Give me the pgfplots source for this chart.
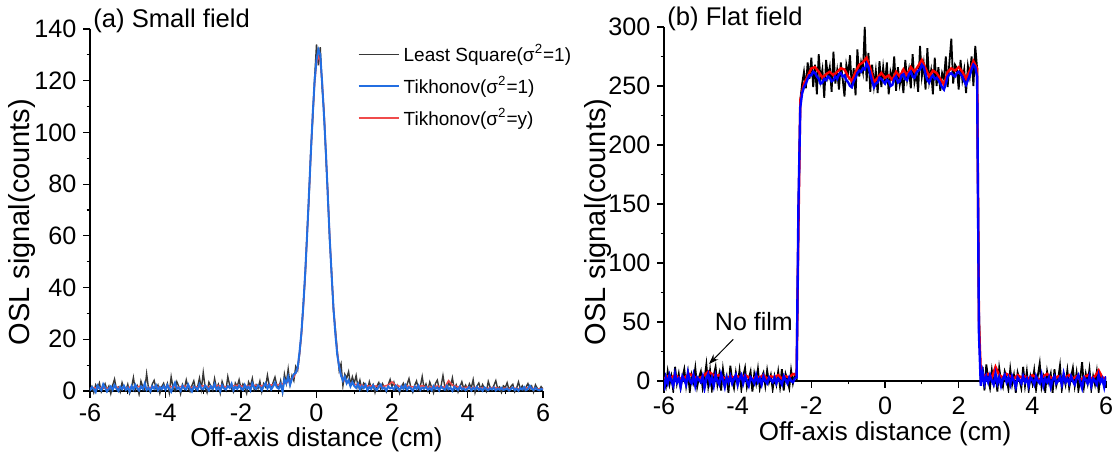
\documentclass[border=0pt]{standalone}
\usepackage{fontspec}
\setmainfont{Liberation Sans}
\usepackage{pgfplots}
\pgfplotsset{compat=1.18}
\usetikzlibrary{arrows.meta}
\definecolor{lsgray}{RGB}{55,55,55}
\definecolor{tkblue}{RGB}{35,110,225}
\definecolor{tkred}{RGB}{240,75,75}
\pgfplotsset{
  myaxis/.style={
    scale only axis,
    axis x line=middle, axis y line=left,
    every inner x axis line/.append style={-},
    every outer y axis line/.append style={-},
    x axis line style={-}, y axis line style={-},
    axis line style={line width=0.6pt, black, -},
    hide obscured x ticks=false, hide obscured y ticks=false,
    xtick align=outside, ytick align=outside,
    xmin=-6, xmax=6, xtick={-6,-4,...,6},
    minor x tick num=1, minor y tick num=1,
    major tick length=3.3pt, minor tick length=1.7pt,
    every tick/.style={black, line width=0.6pt},
    tick label style={font=\fontsize{12.6}{15}\selectfont},
    xlabel style={font=\fontsize{13}{15}\selectfont, inner sep=0.5pt},
    ylabel style={font=\fontsize{14.5}{17}\selectfont},
    /pgf/number format/assume math mode=true,
  }
}
\begin{document}
\begin{tikzpicture}
\useasboundingbox (-45pt,-28.4pt) rectangle (513.5pt,198.1pt);
% ---------------- (a) Small field ----------------
\begin{axis}[myaxis, name=L, at={(0pt,0pt)}, anchor=south west,
  width=226.5pt, height=183.6pt,
  ymin=-2, ymax=140, ytick={0,20,...,140},
  xticklabel style={inner sep=0.5pt, yshift=-2.6pt},
  xlabel={Off-axis distance (cm)}, ylabel={OSL signal(counts)},
  xlabel style={at={(axis description cs:0.5,0)}, anchor=center, yshift=-21.8pt},
  ylabel style={at={(axis description cs:-0.150,0.474)}, anchor=center, rotate=0},
  legend style={at={(axis description cs:0.59,0.97)}, anchor=north west, draw=none, fill=none,
    font=\fontsize{9.5}{11}\selectfont, row sep=2pt, inner sep=0pt},
  legend cell align=left,
  legend image code/.code={\draw[#1] (0pt,0pt) -- (20pt,0pt);},
]
\addplot[lsgray, line width=0.7pt] coordinates {
(-6,0.5)(-5.95,1.8)(-5.9,-0.6)(-5.85,2.4)(-5.8,0.9)(-5.75,3.1)(-5.7,-0.3)(-5.65,1.2)(-5.6,2.8)(-5.55,0.4)(-5.5,1.9)(-5.45,-1.0)(-5.4,2.2)(-5.35,4.6)(-5.3,0.7)(-5.25,1.5)(-5.2,-0.4)(-5.15,3.3)(-5.1,1.1)(-5.05,0.2)
(-5,2.6)(-4.95,-0.8)(-4.9,1.4)(-4.85,5.2)(-4.8,0.3)(-4.75,2.0)(-4.7,-1.2)(-4.65,3.8)(-4.6,1.6)(-4.55,0.5)(-4.5,6.7)(-4.45,1.0)(-4.4,-0.5)(-4.35,2.7)(-4.3,4.1)(-4.25,0.8)(-4.2,2.3)(-4.15,-0.9)(-4.1,1.7)(-4.05,3.0)
(-4,0.6)(-3.95,2.9)(-3.9,-0.7)(-3.85,5.5)(-3.8,1.3)(-3.75,0.1)(-3.7,3.6)(-3.65,1.8)(-3.6,-1.1)(-3.55,2.5)(-3.5,0.9)(-3.45,4.3)(-3.4,1.2)(-3.35,-0.2)(-3.3,2.1)(-3.25,3.9)(-3.2,0.4)(-3.15,1.6)(-3.1,5.0)(-3.05,0.7)
(-3,7.2)(-2.95,1.5)(-2.9,-0.6)(-2.85,3.4)(-2.8,2.0)(-2.75,0.3)(-2.7,4.8)(-2.65,1.1)(-2.6,2.6)(-2.55,-0.8)(-2.5,3.7)(-2.45,1.4)(-2.4,0.2)(-2.35,5.6)(-2.3,2.2)(-2.25,0.9)(-2.2,-0.4)(-2.15,3.1)(-2.1,1.8)(-2.05,4.4)
(-2,0.8)(-1.95,2.7)(-1.9,1.3)(-1.85,-0.9)(-1.8,3.5)(-1.75,1.9)(-1.7,4.9)(-1.65,0.5)(-1.6,2.4)(-1.55,1.0)(-1.5,3.8)(-1.45,-0.3)(-1.4,2.9)(-1.35,1.6)(-1.3,6.1)(-1.25,2.0)(-1.2,0.7)(-1.15,3.3)(-1.1,5.4)(-1.05,2.1)
(-1,1.2)(-0.95,4.0)(-0.9,-0.5)(-0.85,6.5)(-0.8,3.0)(-0.75,8.5)(-0.7,2.5)(-0.65,6.0)(-0.6,4.0)(-0.55,9.5)(-0.5,8.0)(-0.45,14.0)(-0.4,22.0)(-0.35,33.5)(-0.3,44.0)(-0.25,61.0)(-0.2,74.0)(-0.15,93.0)(-0.1,105.0)(-0.05,121.0)
(0,134)(0.05,126)(0.1,133)(0.15,117)(0.2,108)(0.25,90)(0.3,77)(0.35,58)(0.4,46)(0.45,31)(0.5,24)(0.55,15.5)(0.6,8)(0.65,10.5)(0.7,2)(0.75,6.5)(0.8,5)(0.85,7.5)(0.9,2.5)(0.95,5.5)
(1,3.0)(1.05,6.0)(1.1,1.5)(1.15,4.2)(1.2,0.8)(1.25,3.1)(1.3,2.2)(1.35,0.4)(1.4,3.6)(1.45,1.1)(1.5,2.5)(1.55,-0.6)(1.6,1.9)(1.65,3.3)(1.7,0.7)(1.75,2.8)(1.8,1.2)(1.85,-0.3)(1.9,2.4)(1.95,4.5)
(2,1.6)(2.05,3.4)(2.1,0.5)(2.15,2.1)(2.2,-0.8)(2.25,1.7)(2.3,3.0)(2.35,0.9)(2.4,2.6)(2.45,4.8)(2.5,1.3)(2.55,-0.5)(2.6,2.2)(2.65,3.9)(2.7,0.6)(2.75,1.8)(2.8,5.6)(2.85,1.0)(2.9,2.7)(2.95,0.2)
(3,3.5)(3.05,1.4)(3.1,-0.7)(3.15,2.9)(3.2,4.2)(3.25,0.8)(3.3,2.0)(3.35,6.0)(3.4,1.5)(3.45,0.3)(3.5,3.2)(3.55,1.9)(3.6,5.1)(3.65,0.6)(3.7,2.4)(3.75,-0.4)(3.8,1.7)(3.85,3.6)(3.9,0.9)(3.95,2.3)
(4,0.5)(4.05,2.8)(4.1,1.2)(4.15,4.4)(4.2,-0.6)(4.25,1.9)(4.3,3.1)(4.35,0.7)(4.4,2.5)(4.45,1.0)(4.5,-0.2)(4.55,3.7)(4.6,1.4)(4.65,0.6)(4.7,2.2)(4.75,4.0)(4.8,0.9)(4.85,1.6)(4.9,-0.5)(4.95,2.0)
(5,1.3)(5.05,3.2)(5.1,0.4)(5.15,1.8)(5.2,2.6)(5.25,-0.3)(5.3,1.1)(5.35,3.5)(5.4,0.8)(5.45,2.0)(5.5,0.2)(5.55,1.5)(5.6,2.9)(5.65,0.6)(5.7,1.9)(5.75,-0.4)(5.8,2.4)(5.85,1.0)(5.9,0.5)(5.95,1.7)(6,0.8)
};
\addlegendentry{Least Square(σ\textsuperscript{2}=1)}
\addplot[tkred, line width=0.8pt, forget plot] coordinates {
(-6,1.0)(-5.9,1.3)(-5.8,1.1)(-5.7,1.4)(-5.6,1.2)(-5.5,1.0)(-5.4,1.3)(-5.3,1.5)(-5.2,1.2)(-5.1,1.1)
(-5,1.3)(-4.9,1.6)(-4.8,1.4)(-4.7,1.8)(-4.6,1.5)(-4.5,1.2)(-4.4,1.4)(-4.3,1.7)(-4.2,1.5)(-4.1,1.3)
(-4,1.5)(-3.9,1.8)(-3.8,1.6)(-3.7,1.4)(-3.6,1.7)(-3.5,1.9)(-3.4,1.6)(-3.3,1.4)(-3.2,1.5)(-3.1,1.8)
(-3,2.0)(-2.9,1.7)(-2.8,1.5)(-2.7,1.8)(-2.6,2.1)(-2.5,1.9)(-2.4,1.6)(-2.3,1.8)(-2.2,2.0)(-2.1,2.2)
(-2,1.9)(-1.9,1.7)(-1.8,2.0)(-1.7,2.3)(-1.6,2.1)(-1.5,1.9)(-1.4,2.2)(-1.3,2.5)(-1.2,2.3)(-1.1,2.6)
(-1,2.4)(-0.9,2.8)(-0.8,3.2)(-0.7,4.0)(-0.6,5.5)
(-0.5,8.5)(-0.45,14.5)(-0.4,22.0)(-0.35,32.5)(-0.3,45.0)(-0.25,60.0)(-0.2,75.5)(-0.15,92.0)(-0.1,107.0)(-0.05,119.0)(0,127.0)(0.05,129.5)(0.1,127.5)(0.15,119.5)(0.2,107.0)(0.25,92.0)(0.3,75.5)(0.35,59.5)(0.4,45.0)(0.45,32.0)(0.5,22.5)(0.55,15.0)(0.6,9.5)(0.65,6.0)(0.7,4.5)(0.8,3.5)(0.9,3.0)
(1,2.6)(1.1,2.4)(1.2,2.2)(1.3,2.0)(1.4,1.9)(1.5,2.1)(1.6,1.8)(1.7,1.6)(1.8,1.9)(1.9,2.3)
(2,3.5)(2.1,2.2)(2.2,1.8)(2.3,1.6)(2.4,1.9)(2.5,1.7)(2.6,1.5)(2.7,1.8)(2.8,2.0)(2.9,1.6)
(3,1.4)(3.1,1.7)(3.2,1.9)(3.3,1.6)(3.4,1.5)(3.5,4.0)(3.6,2.2)(3.7,1.8)(3.8,1.5)(3.9,1.3)
(4,1.5)(4.1,1.2)(4.2,1.4)(4.3,1.1)(4.4,1.3)(4.5,1.0)(4.6,1.2)(4.7,1.4)(4.8,1.1)(4.9,0.9)
(5,1.1)(5.1,0.9)(5.2,1.2)(5.3,1.0)(5.4,0.8)(5.5,1.0)(5.6,1.3)(5.7,1.1)(5.8,0.9)(5.9,0.8)(6,0.9)
};
\addplot[tkblue, line width=1.0pt] coordinates {
(-6,0.2)(-5.95,1.5)(-5.9,0.8)(-5.85,-0.4)(-5.8,2.1)(-5.75,1.0)(-5.7,0.3)(-5.65,2.6)(-5.6,1.2)(-5.55,-0.2)(-5.5,0.9)(-5.45,1.8)(-5.4,0.4)(-5.35,2.3)(-5.3,1.1)(-5.25,0.0)(-5.2,1.6)(-5.15,0.7)(-5.1,2.0)(-5.05,0.5)
(-5,1.3)(-4.95,-0.3)(-4.9,1.9)(-4.85,0.6)(-4.8,2.4)(-4.75,1.0)(-4.7,0.2)(-4.65,1.7)(-4.6,0.8)(-4.55,2.9)(-4.5,0.4)(-4.45,1.2)(-4.4,-0.1)(-4.35,1.8)(-4.3,0.9)(-4.25,2.2)(-4.2,0.3)(-4.15,1.5)(-4.1,0.7)(-4.05,1.9)
(-4,0.5)(-3.95,2.3)(-3.9,1.0)(-3.85,-0.3)(-3.8,1.6)(-3.75,3.2)(-3.7,0.8)(-3.65,1.4)(-3.6,0.1)(-3.55,2.0)(-3.5,1.1)(-3.45,0.6)(-3.4,2.5)(-3.35,0.9)(-3.3,-0.2)(-3.25,1.7)(-3.2,1.2)(-3.15,0.4)(-3.1,2.6)(-3.05,1.0)
(-3,0.7)(-2.95,2.1)(-2.9,1.3)(-2.85,0.2)(-2.8,1.8)(-2.75,0.9)(-2.7,2.7)(-2.65,0.5)(-2.6,1.5)(-2.55,-0.1)(-2.5,2.2)(-2.45,1.0)(-2.4,0.6)(-2.35,1.9)(-2.3,1.2)(-2.25,2.8)(-2.2,0.3)(-2.15,1.6)(-2.1,0.8)(-2.05,2.0)
(-2,1.1)(-1.95,0.4)(-1.9,2.4)(-1.85,1.0)(-1.8,1.7)(-1.75,0.2)(-1.7,2.9)(-1.65,1.3)(-1.6,0.8)(-1.55,2.2)(-1.5,1.5)(-1.45,0.3)(-1.4,1.9)(-1.35,3.0)(-1.3,1.0)(-1.25,2.4)(-1.2,0.6)(-1.15,1.8)(-1.1,3.2)(-1.05,1.4)
(-1,0.9)(-0.95,2.6)(-0.9,-0.2)(-0.85,4.5)(-0.8,3.0)(-0.75,5.5)(-0.7,2.4)(-0.65,4.8)(-0.6,6.5)(-0.55,7.0)(-0.5,9.0)(-0.45,15.0)(-0.4,22.5)(-0.35,33.0)(-0.3,45.5)(-0.25,60.0)(-0.2,76.0)(-0.15,92.0)(-0.1,107.0)(-0.05,120.0)
(0,128)(0.05,132)(0.1,130)(0.15,119)(0.2,106)(0.25,92)(0.3,75)(0.35,59)(0.4,45)(0.45,32)(0.5,22)(0.55,14)(0.6,9.5)(0.65,6)(0.7,4)(0.75,5.5)(0.8,3)(0.85,4.2)(0.9,1.8)(0.95,3.4)
(1,2.0)(1.05,1.2)(1.1,2.8)(1.15,0.6)(1.2,1.9)(1.25,1.1)(1.3,2.4)(1.35,0.3)(1.4,1.5)(1.45,0.8)(1.5,2.2)(1.55,1.0)(1.6,0.4)(1.65,1.7)(1.7,2.5)(1.75,0.9)(1.8,1.3)(1.85,0.2)(1.9,1.8)(1.95,1.0)
(2,1.4)(2.05,0.6)(2.1,2.0)(2.15,1.1)(2.2,0.3)(2.25,1.8)(2.3,0.9)(2.35,2.3)(2.4,0.5)(2.45,1.5)(2.5,1.0)(2.55,0.1)(2.6,1.7)(2.65,0.8)(2.7,2.1)(2.75,0.4)(2.8,1.3)(2.85,0.9)(2.9,1.6)(2.95,0.5)
(3,1.2)(3.05,0.3)(3.1,1.9)(3.15,0.8)(3.2,1.4)(3.25,0.2)(3.3,1.7)(3.35,1.0)(3.4,0.5)(3.45,2.0)(3.5,0.7)(3.55,1.3)(3.6,0.1)(3.65,1.6)(3.7,0.9)(3.75,0.4)(3.8,1.8)(3.85,0.6)(3.9,1.1)(3.95,0.3)
(4,0.9)(4.05,1.5)(4.1,0.2)(4.15,1.2)(4.2,0.7)(4.25,1.6)(4.3,0.4)(4.35,1.0)(4.4,0.1)(4.45,1.4)(4.5,0.8)(4.55,0.3)(4.6,1.1)(4.65,0.6)(4.7,1.3)(4.75,0.2)(4.8,0.9)(4.85,0.5)(4.9,1.2)(4.95,0.4)
(5,0.7)(5.05,1.0)(5.1,0.2)(5.15,0.8)(5.2,1.3)(5.25,0.4)(5.3,0.9)(5.35,0.1)(5.4,1.1)(5.45,0.6)(5.5,1.5)(5.55,0.3)(5.6,0.8)(5.65,2.0)(5.7,0.9)(5.75,0.4)(5.8,1.2)(5.85,0.6)(5.9,0.3)(5.95,0.8)(6,0.5)
};
\addlegendentry{Tikhonov(σ\textsuperscript{2}=1)}
\addlegendimage{tkred, line width=0.8pt}
\addlegendentry{Tikhonov(σ\textsuperscript{2}=y)}
\end{axis}
\node[anchor=base west, inner sep=0pt, font=\fontsize{12.8}{15}\selectfont] at ([xshift=1.5pt,yshift=0.5pt]L.north west) {(a) Small field};
% ---------------- (b) Flat field ----------------
\begin{axis}[myaxis, name=R, at={(287pt,1.7pt)}, anchor=south west,
  width=221pt, height=182.9pt,
  ymin=-10, ymax=300, ytick={0,50,...,300},
  xticklabel style={inner sep=0.5pt, yshift=-4.2pt},
  xlabel={Off-axis distance (cm)}, ylabel={OSL signal(counts)},
  xlabel style={at={(axis description cs:0.5,0)}, anchor=center, yshift=-20.5pt},
  ylabel style={at={(axis description cs:-0.149,0.467)}, anchor=center},
]
\addplot[black, line width=0.9pt] coordinates {
(-6,0)(-5.95,-5)(-5.9,8)(-5.85,-3)(-5.8,4)(-5.75,-8)(-5.7,12)(-5.65,-2)(-5.6,6)(-5.55,-6)(-5.5,3)(-5.45,10)(-5.4,-4)(-5.35,7)(-5.3,-9)(-5.25,5)(-5.2,-1)(-5.15,11)(-5.1,-5)(-5.05,3)
(-5,8)(-4.95,-6)(-4.9,2)(-4.85,14)(-4.8,-4)(-4.75,9)(-4.7,-7)(-4.65,5)(-4.6,12)(-4.55,-3)(-4.5,6)(-4.45,-8)(-4.4,10)(-4.35,-2)(-4.3,4)(-4.25,-10)(-4.2,13)(-4.15,1)(-4.1,-6)(-4.05,7)
(-4,-3)(-3.95,9)(-3.9,-7)(-3.85,4)(-3.8,11)(-3.75,-5)(-3.7,2)(-3.65,8)(-3.6,-9)(-3.55,6)(-3.5,-2)(-3.45,10)(-3.4,-6)(-3.35,3)(-3.3,7)(-3.25,-4)(-3.2,9)(-3.15,-1)(-3.1,5)(-3.05,-7)
(-3,4)(-2.95,-3)(-2.9,8)(-2.85,-5)(-2.8,10)(-2.75,-8)(-2.7,6)(-2.65,1)(-2.6,-6)(-2.55,9)(-2.5,-2)(-2.45,5)(-2.4,2)(-2.35,140)(-2.3,238)(-2.25,252)(-2.2,262)(-2.15,248)(-2.1,270)(-2.05,256)
(-2,274)(-1.95,249)(-1.9,268)(-1.85,243)(-1.8,277)(-1.75,255)(-1.7,264)(-1.65,240)(-1.6,272)(-1.55,258)(-1.5,266)(-1.45,245)(-1.4,279)(-1.35,252)(-1.3,263)(-1.25,247)(-1.2,270)(-1.15,256)(-1.1,241)(-1.05,268)
(-1,260)(-0.95,276)(-0.9,248)(-0.85,265)(-0.8,242)(-0.75,281)(-0.7,258)(-0.65,270)(-0.6,262)(-0.55,300)(-0.5,254)(-0.45,278)(-0.4,245)(-0.35,268)(-0.3,250)(-0.25,263)(-0.2,244)(-0.15,271)(-0.1,249)(-0.05,266)
(0,252)(0.05,270)(0.1,243)(0.15,262)(0.2,256)(0.25,275)(0.3,246)(0.35,266)(0.4,251)(0.45,259)(0.5,244)(0.55,272)(0.6,255)(0.65,264)(0.7,248)(0.75,277)(0.8,253)(0.85,261)(0.9,245)(0.95,284)
(1,258)(1.05,269)(1.1,247)(1.15,282)(1.2,254)(1.25,263)(1.3,243)(1.35,274)(1.4,250)(1.45,266)(1.5,246)(1.55,261)(1.6,256)(1.65,275)(1.7,249)(1.75,271)(1.8,290)(1.85,252)(1.9,268)(1.95,265)
(2,247)(2.05,272)(2.1,255)(2.15,264)(2.2,244)(2.25,267)(2.3,258)(2.35,275)(2.4,250)(2.45,284)(2.5,265)(2.55,60)(2.6,-3)(2.65,12)(2.7,-8)(2.75,14)(2.8,2)(2.85,-6)(2.9,9)(2.95,-2)
(3,6)(3.05,-9)(3.1,11)(3.15,0)(3.2,-5)(3.25,8)(3.3,3)(3.35,-7)(3.4,10)(3.45,-3)(3.5,5)(3.55,-10)(3.6,7)(3.65,1)(3.7,-6)(3.75,12)(3.8,-4)(3.85,8)(3.9,-8)(3.95,4)
(4,-2)(4.05,9)(4.1,-7)(4.15,5)(4.2,15)(4.25,-5)(4.3,3)(4.35,-9)(4.4,8)(4.45,-1)(4.5,6)(4.55,-10)(4.6,10)(4.65,-4)(4.7,2)(4.75,13)(4.8,-7)(4.85,4)(4.9,-3)(4.95,9)
(5,-6)(5.05,3)(5.1,11)(5.15,-4)(5.2,7)(5.25,-8)(5.3,2)(5.35,16)(5.4,-5)(5.45,6)(5.5,-2)(5.55,10)(5.6,-7)(5.65,4)(5.7,-3)(5.75,8)(5.8,-9)(5.85,5)(5.9,1)(5.95,-4)(6,3)
};
\addplot[red, line width=1.2pt] coordinates {
(-6,2)(-5.9,4)(-5.8,3)(-5.7,5)(-5.6,3)(-5.5,1)(-5.4,4)(-5.3,6)(-5.2,4)(-5.1,2)
(-5,3)(-4.9,5)(-4.8,8)(-4.7,6)(-4.6,4)(-4.5,5)(-4.4,3)(-4.3,2)(-4.2,4)(-4.1,3)
(-4,4)(-3.9,2)(-3.8,5)(-3.7,3)(-3.6,1)(-3.5,4)(-3.4,3)(-3.3,5)(-3.2,2)(-3.1,4)
(-3,3)(-2.9,5)(-2.8,2)(-2.7,4)(-2.6,3)(-2.5,6)(-2.4,5)(-2.35,130)(-2.3,238)(-2.2,252)(-2.1,258)
(-2,265)(-1.9,266)(-1.8,262)(-1.7,257)(-1.6,260)(-1.5,262)(-1.4,259)(-1.3,262)(-1.2,265)(-1.1,264)
(-1,258)(-0.9,254)(-0.8,262)(-0.7,268)(-0.6,270)(-0.5,274)(-0.4,265)(-0.3,253)(-0.2,257)(-0.1,261)
(0,257)(0.1,259)(0.2,255)(0.3,262)(0.4,258)(0.5,264)(0.6,259)(0.7,266)(0.8,262)(0.9,267)
(1,272)(1.1,265)(1.2,258)(1.3,263)(1.4,261)(1.5,256)(1.6,251)(1.7,262)(1.8,265)(1.9,263)
(2,266)(2.1,262)(2.2,256)(2.3,263)(2.4,271)(2.5,265)(2.55,50)(2.6,8)(2.7,4)(2.8,6)(2.9,3)
(3,12)(3.1,5)(3.2,3)(3.3,6)(3.4,4)(3.5,2)(3.6,5)(3.7,3)(3.8,4)(3.9,2)
(4,5)(4.1,3)(4.2,1)(4.3,4)(4.4,6)(4.5,3)(4.6,2)(4.7,4)(4.8,1)(4.9,3)
(5,5)(5.1,2)(5.2,4)(5.3,1)(5.4,3)(5.5,5)(5.6,2)(5.7,4)(5.8,9)(5.9,3)(6,2)
};
\addplot[blue, line width=1.2pt] coordinates {
(-6,-8)(-5.95,3)(-5.9,-2)(-5.85,5)(-5.8,0)(-5.75,-4)(-5.7,6)(-5.65,-1)(-5.6,2)(-5.55,-5)(-5.5,4)(-5.45,1)(-5.4,-3)(-5.35,7)(-5.3,0)(-5.25,-2)(-5.2,5)(-5.15,-4)(-5.1,3)(-5.05,1)
(-5,-1)(-4.95,4)(-4.9,-6)(-4.85,2)(-4.8,6)(-4.75,-2)(-4.7,3)(-4.65,-4)(-4.6,5)(-4.55,0)(-4.5,-3)(-4.45,6)(-4.4,1)(-4.35,-5)(-4.3,3)(-4.25,-1)(-4.2,4)(-4.15,-2)(-4.1,2)(-4.05,5)
(-4,-3)(-3.95,2)(-3.9,5)(-3.85,-2)(-3.8,4)(-3.75,0)(-3.7,-4)(-3.65,3)(-3.6,1)(-3.55,-2)(-3.5,5)(-3.45,-1)(-3.4,2)(-3.35,-3)(-3.3,4)(-3.25,0)(-3.2,-2)(-3.15,3)(-3.1,1)(-3.05,-1)
(-3,3)(-2.95,-2)(-2.9,2)(-2.85,0)(-2.8,-3)(-2.75,4)(-2.7,1)(-2.65,-2)(-2.6,3)(-2.55,0)(-2.5,-1)(-2.45,2)(-2.4,3)(-2.35,150)(-2.3,232)(-2.25,244)(-2.2,249)(-2.15,252)(-2.1,256)(-2.05,259)
(-2,259)(-1.95,262)(-1.9,261)(-1.85,258)(-1.8,256)(-1.75,252)(-1.7,253)(-1.65,256)(-1.6,255)(-1.55,258)(-1.5,257)(-1.45,254)(-1.4,255)(-1.35,258)(-1.3,256)(-1.25,260)(-1.2,261)(-1.15,258)(-1.1,259)(-1.05,255)
(-1,253)(-0.95,250)(-0.9,249)(-0.85,254)(-0.8,257)(-0.75,261)(-0.7,263)(-0.65,262)(-0.6,265)(-0.55,264)(-0.5,269)(-0.45,266)(-0.4,260)(-0.35,254)(-0.3,249)(-0.25,252)(-0.2,253)(-0.15,257)(-0.1,256)(-0.05,254)
(0,252)(0.05,255)(0.1,254)(0.15,250)(0.2,251)(0.25,256)(0.3,258)(0.35,253)(0.4,254)(0.45,259)(0.5,260)(0.55,256)(0.6,255)(0.65,260)(0.7,262)(0.75,258)(0.8,257)(0.85,261)(0.9,263)(0.95,264)
(1,268)(1.05,266)(1.1,260)(1.15,255)(1.2,253)(1.25,257)(1.3,259)(1.35,256)(1.4,257)(1.45,255)(1.5,252)(1.55,249)(1.6,247)(1.65,252)(1.7,258)(1.75,260)(1.8,261)(1.85,259)(1.9,258)(1.95,261)
(2,262)(2.05,260)(2.1,258)(2.15,254)(2.2,251)(2.25,255)(2.3,259)(2.35,264)(2.4,268)(2.45,266)(2.5,258)(2.55,40)(2.6,-4)(2.65,7)(2.7,-2)(2.75,4)(2.8,-1)(2.85,5)(2.9,0)(2.95,-3)
(3,6)(3.05,-2)(3.1,3)(3.15,-4)(3.2,2)(3.25,5)(3.3,-1)(3.35,3)(3.4,-3)(3.45,4)(3.5,0)(3.55,-5)(3.6,3)(3.65,1)(3.7,-2)(3.75,4)(3.8,-1)(3.85,2)(3.9,-4)(3.95,3)
(4,1)(4.05,-3)(4.1,4)(4.15,0)(4.2,-2)(4.25,5)(4.3,-4)(4.35,2)(4.4,-1)(4.45,3)(4.5,-5)(4.55,1)(4.6,4)(4.65,-2)(4.7,0)(4.75,3)(4.8,-3)(4.85,6)(4.9,-1)(4.95,2)
(5,-2)(5.05,4)(5.1,0)(5.15,-3)(5.2,2)(5.25,5)(5.3,-1)(5.35,-6)(5.4,3)(5.45,1)(5.5,-2)(5.55,4)(5.6,-4)(5.65,2)(5.7,0)(5.75,-3)(5.8,5)(5.85,-1)(5.9,2)(5.95,-5)(6,4)
};
\node[font=\fontsize{12.5}{15}\selectfont] at (axis cs:-3.56,50) {No film};
\draw[black, line width=0.5pt, -{Stealth[length=5pt,width=3.5pt]}] (axis cs:-4.12,35.3) -- (axis cs:-4.78,14.4);
\end{axis}
\node[anchor=base west, inner sep=0pt, font=\fontsize{12.8}{15}\selectfont] at ([xshift=1.5pt,yshift=0.5pt]R.north west) {(b) Flat field};
\end{tikzpicture}
\end{document}
